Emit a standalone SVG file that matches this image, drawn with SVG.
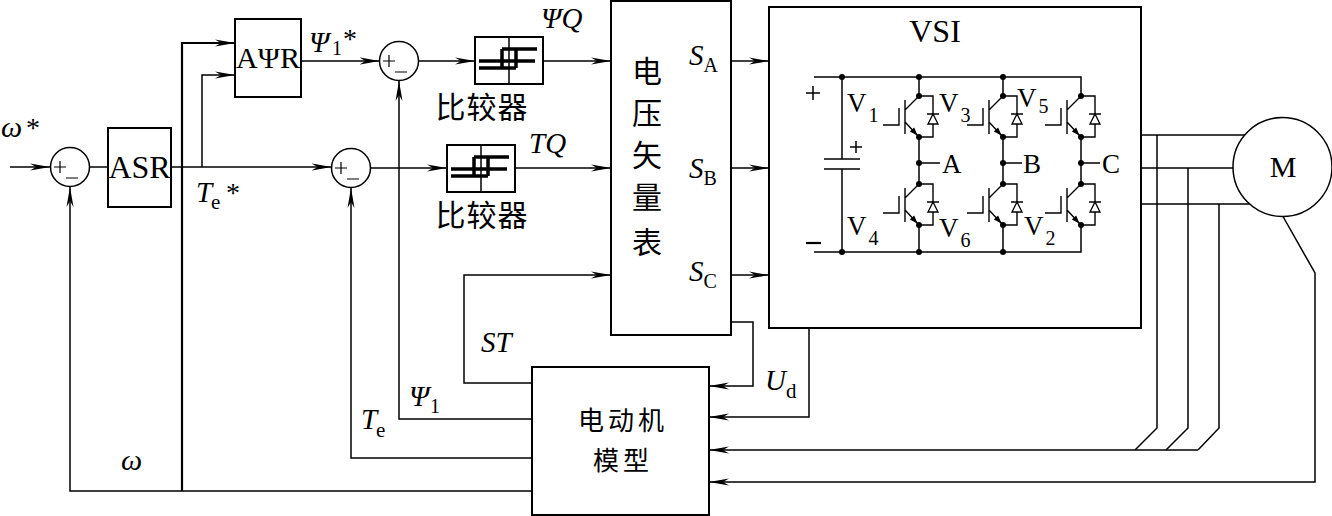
<svg xmlns="http://www.w3.org/2000/svg" width="1332" height="516" viewBox="0 0 1332 516">
<style>
.ln{fill:none;stroke:#000;stroke-width:1.5}
.bx{fill:#fff;stroke:#000;stroke-width:2}
.thk{fill:none;stroke:#000;stroke-width:2.2}
.t{font-family:"Liberation Serif","Times New Roman",serif;fill:#000}
.i{font-style:italic}
.cn{font-family:"Noto Sans CJK SC","Noto Sans",sans-serif;fill:#000}
.hy{fill:none;stroke:#000;stroke-width:3.5}
.th{fill:none;stroke:#000;stroke-width:1.4}
.dot{fill:#000}
</style>
<defs>
<marker id="ar" markerUnits="userSpaceOnUse" markerWidth="22" markerHeight="10" refX="20" refY="5" orient="auto"><path d="M0,1.5 L20,5 L0,8.5 L6,5 Z" fill="#000"/></marker>
<g id="sum"><circle r="19.5" fill="#fff" stroke="#000" stroke-width="1.5"/><path d="M-16,0 H-4 M-10,-6 V6 M-4,11 H8" stroke="#000" stroke-width="1.2" fill="none"/></g>
<g id="cmp"><rect x="0" y="0" width="68" height="47" fill="#fff" stroke="#000" stroke-width="2"/><path d="M34,0 V47" stroke="#000" stroke-width="1.5"/><path class="hy" d="M27,12 H62 M4,24 H60 M4,31 H41 M27,12 V31 M41,12 V31"/></g>
<g id="igbt"><path class="th" d="M-14,4 V38 M-14,14 L0,0 M-14,26 L0,41 M-36,29 H-20 V12 M0,0 H14 V41 H0 M8,18 H20"/><path d="M9,28 L19,28 L14,18 Z" fill="#fff" stroke="#000" stroke-width="1.3"/><polygon points="-1.5,39.4 -4.8,31.5 -9.2,35.6" fill="#000"/><circle cx="0" cy="0" r="3" class="dot"/><circle cx="0" cy="41" r="3" class="dot"/></g>
</defs>

<g id="connectors">
<path class="ln" d="M10,167 H50" marker-end="url(#ar)"/>
<path class="ln" d="M89.5,167 H108"/>
<path class="ln" d="M171,167 H331.5" marker-end="url(#ar)"/>
<path class="ln" d="M202,167 V75 H235" marker-end="url(#ar)"/>
<path class="thk" d="M182,491 V43 H235" marker-end="url(#ar)"/>
<path class="ln" d="M532,491 H70 V187" marker-end="url(#ar)"/>
<path class="ln" d="M301,61 H379.5" marker-end="url(#ar)"/>
<path class="ln" d="M419,61 H475" marker-end="url(#ar)"/>
<path class="ln" d="M543,61 H611" marker-end="url(#ar)"/>
<path class="ln" d="M371,168 H447" marker-end="url(#ar)"/>
<path class="ln" d="M515,168 H611" marker-end="url(#ar)"/>
<path class="ln" d="M731,61 H769" marker-end="url(#ar)"/>
<path class="ln" d="M731,168 H769" marker-end="url(#ar)"/>
<path class="ln" d="M731,275 H769" marker-end="url(#ar)"/>
<path class="ln" d="M532,383 H464 V275 H611" marker-end="url(#ar)"/>
<path class="ln" d="M532,419 H399 V81" marker-end="url(#ar)"/>
<path class="ln" d="M532,458 H351 V188" marker-end="url(#ar)"/>
<path class="ln" d="M731,322 H753 V386 H709" marker-end="url(#ar)"/>
<path class="ln" d="M809,328 V417 H709" marker-end="url(#ar)"/>
<path class="ln" d="M1141,135 H1245 M1141,168 H1233 M1141,204 H1250"/>
<path class="ln" d="M1157,135 V428 L1135,450 M1188,168 V428 L1166,450 M1219,204 V428 L1198,450"/>
<path class="ln" d="M1198,450 H709" marker-end="url(#ar)"/>
<path class="ln" d="M1283,216.5 L1315,273 V482 H709" marker-end="url(#ar)"/>
</g>

<g id="sum1"><use href="#sum" x="70" y="167"/></g>
<g id="asr"><rect class="bx" x="108" y="128" width="63" height="79"/><text class="t" x="139.5" y="178" font-size="32" text-anchor="middle">ASR</text></g>
<g id="apsir"><rect class="bx" x="235" y="19" width="66" height="78"/><text class="t" x="268" y="68" font-size="30" text-anchor="middle">AΨR</text></g>
<g id="sumF"><use href="#sum" x="399" y="61"/></g>
<g id="sumT"><use href="#sum" x="351" y="168"/></g>
<g id="cmp1"><use href="#cmp" x="475" y="37"/><text class="cn" x="482" y="118" font-size="30" text-anchor="middle" letter-spacing="1">比较器</text></g>
<g id="cmp2"><use href="#cmp" x="447" y="145"/><text class="cn" x="482" y="226" font-size="30" text-anchor="middle" letter-spacing="1">比较器</text></g>

<g id="table">
<rect class="bx" x="611" y="1" width="120" height="334"/>
<text class="cn" font-size="30" text-anchor="middle"><tspan x="647" y="82">电</tspan><tspan x="647" y="124">压</tspan><tspan x="647" y="166">矢</tspan><tspan x="647" y="208">量</tspan><tspan x="647" y="253">表</tspan></text>
<text class="t" x="689" y="65" font-size="29"><tspan class="i">S</tspan><tspan font-size="20" dy="7">A</tspan></text>
<text class="t" x="689" y="178" font-size="29"><tspan class="i">S</tspan><tspan font-size="20" dy="7">B</tspan></text>
<text class="t" x="689" y="281" font-size="29"><tspan class="i">S</tspan><tspan font-size="20" dy="7">C</tspan></text>
</g>

<g id="vsi">
<rect class="bx" x="769" y="7" width="372" height="321"/>
<text class="t" x="935" y="42" font-size="32" text-anchor="middle">VSI</text>
<path class="ln" d="M814,77 H1081 V96 M814,252 H1081 V225 M919,77 V96 M1003,77 V96 M919,137 V184 M1003,137 V184 M1081,137 V184 M919,225 V252 M1003,225 V252"/>
<path class="ln" d="M842,77 V159 M842,169 V252 M824,159 H860 M824,169 H860"/>
<path class="ln" d="M850,147 H862 M856,141 V153 M806,93 H820 M813,86 V100"/>
<path d="M806,243 H821" stroke="#000" stroke-width="2.2"/>
<use href="#igbt" x="919" y="96"/><use href="#igbt" x="1003" y="96"/><use href="#igbt" x="1081" y="96"/>
<use href="#igbt" x="919" y="184"/><use href="#igbt" x="1003" y="184"/><use href="#igbt" x="1081" y="184"/>
<g class="dot"><circle cx="842" cy="77" r="3"/><circle cx="919" cy="77" r="3"/><circle cx="1003" cy="77" r="3"/><circle cx="842" cy="252" r="3"/><circle cx="919" cy="252" r="3"/><circle cx="1003" cy="252" r="3"/><circle cx="919" cy="163" r="3"/><circle cx="1003" cy="163" r="3"/><circle cx="1081" cy="163" r="3"/></g>
<path class="ln" d="M919,163 H940 M1003,163 H1022 M1081,163 H1100"/>
<g class="t" font-size="27"><text x="942" y="173">A</text><text x="1023" y="173">B</text><text x="1102" y="173">C</text></g>
<g class="t" font-size="27">
<text x="847" y="112">V<tspan font-size="20" dx="2" dy="10">1</tspan></text>
<text x="939" y="112">V<tspan font-size="20" dx="2" dy="10">3</tspan></text>
<text x="1017" y="107">V<tspan font-size="20" dx="2" dy="6">5</tspan></text>
<text x="847" y="235">V<tspan font-size="20" dx="2" dy="10">4</tspan></text>
<text x="939" y="237">V<tspan font-size="20" dx="2" dy="10">6</tspan></text>
<text x="1024" y="235">V<tspan font-size="20" dx="2" dy="10">2</tspan></text>
</g>
</g>

<g id="motor"><circle cx="1282.5" cy="167" r="49.5" fill="#fff" stroke="#000" stroke-width="1.5"/><text class="t" x="1283" y="177" font-size="30" text-anchor="middle">M</text></g>

<g id="model"><rect class="bx" x="532" y="367" width="177" height="148"/>
<text class="cn" x="623" y="430" font-size="26" text-anchor="middle" letter-spacing="4">电动机</text>
<text class="cn" x="623" y="470" font-size="26" text-anchor="middle" letter-spacing="4">模型</text></g>

<g id="labels" class="t">
<text x="1" y="137" font-size="30" class="i">ω</text><text x="26" y="137" font-size="28">*</text>
<text x="196" y="202" font-size="29" class="i">T</text><text x="211" y="209" font-size="21">e</text><text x="226" y="202" font-size="28">*</text>
<text x="309" y="52" font-size="29" class="i">Ψ</text><text x="332" y="55" font-size="20">1</text><text x="343" y="48" font-size="28">*</text>
<text x="541" y="28" font-size="29" class="i">ΨQ</text>
<text x="529" y="153" font-size="29" class="i">TQ</text>
<text x="481" y="352" font-size="29" class="i">ST</text>
<text x="765" y="390" font-size="29" class="i">U</text><text x="786" y="398" font-size="21">d</text>
<text x="361" y="429" font-size="29" class="i">T</text><text x="376" y="437" font-size="21">e</text>
<text x="409" y="406" font-size="29" class="i">Ψ</text><text x="430" y="413" font-size="20">1</text>
<text x="121" y="470" font-size="30" class="i">ω</text>
</g>
</svg>
